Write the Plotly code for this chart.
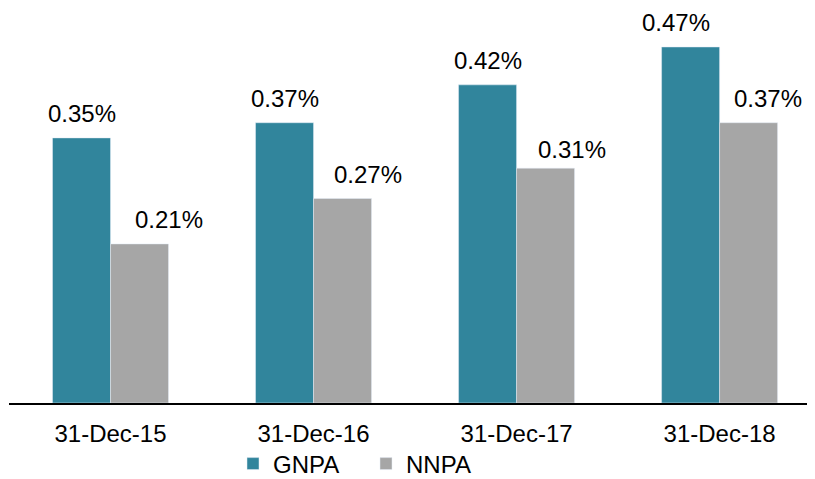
import plotly.graph_objects as go

categories = ["31-Dec-15", "31-Dec-16", "31-Dec-17", "31-Dec-18"]
gnpa = [0.35, 0.37, 0.42, 0.47]
nnpa = [0.21, 0.27, 0.31, 0.37]

# label nudges (px) as placed in the original chart
gnpa_dx = [0, 0, 0, -15]
gnpa_dy = [0, 0, 0, 0]
nnpa_dx = [29, 25, 26, 19]
nnpa_dy = [0, 0, -5, 0]

TEAL = "#31859C"
GRAY = "#A6A6A6"
FONT = "Liberation Sans, Arial, sans-serif"

fig = go.Figure()
fig.add_trace(go.Bar(name="GNPA", x=categories, y=gnpa, marker_color=TEAL,
                     offsetgroup="g", hoverinfo="skip"))
fig.add_trace(go.Bar(name="NNPA", x=categories, y=nnpa, marker_color=GRAY,
                     offsetgroup="n", hoverinfo="skip"))

bw = (1 - 0.4286) / 2
for i, c in enumerate(categories):
    for vals, dxs, dys, off in ((gnpa, gnpa_dx, gnpa_dy, -bw / 2), (nnpa, nnpa_dx, nnpa_dy, bw / 2)):
        fig.add_annotation(
            x=i + off, y=vals[i], xref="x", yref="y",
            text=f"{vals[i]:.2f}%", showarrow=False,
            xanchor="center", yanchor="middle",
            xshift=dxs[i], yshift=24 + dys[i],
            font=dict(family=FONT, size=24, color="#000000"),
        )

W, H = 807, 471
PB = 395  # plot bottom in figure px
fig.update_layout(
    width=W, height=H,
    margin=dict(l=1, r=0, t=0, b=H - PB, autoexpand=False),
    paper_bgcolor="white", plot_bgcolor="white",
    barmode="group", bargap=0.4286, bargroupgap=0,
    font=dict(family=FONT, size=24, color="#000000"),
    showlegend=True,
    legend=dict(orientation="h", x=(225 - 1) / 806, xanchor="left",
                y=-(456 - PB) / PB, yanchor="middle", entrywidth=88,
                font=dict(family=FONT, size=24, color="#000000"),
                bgcolor="rgba(0,0,0,0)", borderwidth=0,
                traceorder="normal", itemclick=False, itemdoubleclick=False),
    xaxis=dict(type="category", range=[-0.5, 3.47], showgrid=False, zeroline=False,
               showline=True, linecolor="#000000", linewidth=1.5,
               ticks="", ticklabelstandoff=8, automargin=False,
               tickfont=dict(family=FONT, size=24, color="#000000")),
    yaxis=dict(range=[0, PB / 757.5], visible=False, showgrid=False, zeroline=False,
               automargin=False),
)

fig.write_html("out.html")
